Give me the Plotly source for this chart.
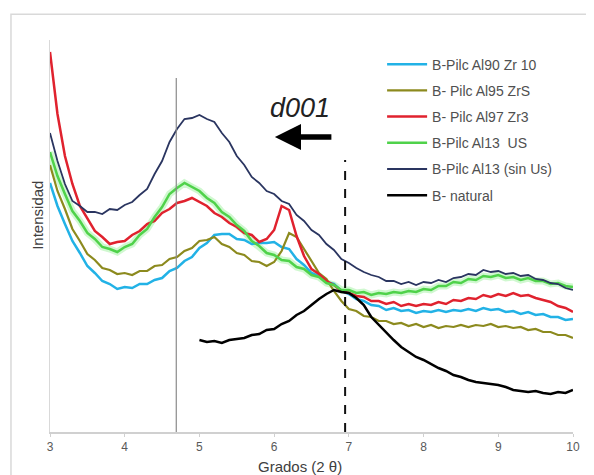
import plotly.graph_objects as go

x_deg = [3.0, 3.1, 3.2, 3.3, 3.4, 3.5, 3.6, 3.7, 3.8, 3.9,
         4.0, 4.1, 4.2, 4.3, 4.4, 4.5, 4.6, 4.7, 4.8, 4.9,
         5.0, 5.1, 5.2, 5.3, 5.4, 5.5, 5.6, 5.7, 5.8, 5.9,
         6.0, 6.1, 6.2, 6.3, 6.4, 6.5, 6.6, 6.7, 6.8, 6.9,
         7.0, 7.1, 7.2, 7.3, 7.4, 7.5, 7.6, 7.7, 7.8, 7.9,
         8.0, 8.1, 8.2, 8.3, 8.4, 8.5, 8.6, 8.7, 8.8, 8.9,
         9.0, 9.1, 9.2, 9.3, 9.4, 9.5, 9.6, 9.7, 9.8, 9.9, 10.0]

al90_zr10 = [249, 226, 208, 191, 179, 166, 159, 151, 148, 143,
             145, 144, 148, 148, 152, 154, 161, 164, 171, 175,
             184, 189, 197, 198, 198, 193, 192, 188, 189, 189,
             190, 185, 183, 173, 167, 159, 156, 150, 148, 141,
             138, 133, 131, 127, 126, 122, 124, 121, 122, 119,
             121, 120, 122, 120, 122, 121, 123, 121, 124, 122,
             123, 120, 121, 118, 120, 117, 118, 115, 115, 112, 113]

al95_zr5 = [267, 241, 223, 203, 191, 178, 172, 164, 162, 158,
            159, 157, 161, 161, 166, 167, 173, 175, 181, 184,
            191, 192, 195, 188, 185, 179, 177, 171, 170, 166,
            170, 181, 199, 195, 183, 171, 159, 153, 141, 131,
            123, 121, 116, 115, 111, 111, 108, 109, 106, 108,
            105, 107, 104, 106, 105, 107, 105, 107, 106, 108,
            105, 106, 104, 105, 102, 103, 100, 100, 97, 97, 94]

al97_zr3 = [380, 318, 276, 248, 226, 213, 201, 195, 188, 190,
            191, 197, 201, 208, 211, 219, 223, 229, 231, 234,
            230, 226, 219, 215, 209, 205, 199, 197, 190, 193,
            202, 226, 222, 196, 176, 163, 158, 151, 147, 141,
            139, 136, 135, 131, 131, 128, 130, 126, 128, 126,
            128, 127, 130, 128, 132, 131, 134, 133, 137, 135,
            138, 136, 139, 136, 137, 134, 132, 130, 126, 124, 120]

al13_us = [280, 256, 238, 221, 211, 199, 193, 185, 183, 180,
           185, 188, 197, 203, 215, 225, 238, 244, 249, 245,
           241, 234, 229, 220, 215, 207, 201, 191, 186, 179,
           177, 172, 171, 165, 163, 157, 155, 149, 147, 142,
           142, 139, 140, 137, 139, 138, 140, 139, 141, 140,
           143, 142, 146, 146, 150, 149, 153, 152, 156, 155,
           157, 154, 155, 152, 154, 151, 151, 148, 149, 146, 145]

al13_sin_us = [299, 271, 248, 231, 226, 220, 220, 218, 223, 222,
               227, 230, 237, 243, 258, 271, 290, 303, 313, 314,
               317, 313, 310, 299, 290, 276, 267, 255, 249, 241,
               238, 231, 228, 217, 211, 202, 197, 188, 182, 173,
               169, 164, 160, 157, 155, 151, 151, 148, 150, 147,
               150, 149, 152, 150, 154, 155, 158, 157, 162, 160,
               161, 158, 159, 156, 157, 153, 152, 149, 148, 144, 142]

x_natural = [5.0, 5.1, 5.2, 5.3, 5.4, 5.5, 5.6, 5.7, 5.8, 5.9,
             6.0, 6.1, 6.2, 6.3, 6.4, 6.5, 6.6, 6.7, 6.8, 6.9,
             7.0, 7.1, 7.2, 7.3, 7.4, 7.5, 7.6, 7.7, 7.8, 7.9,
             8.0, 8.1, 8.2, 8.3, 8.4, 8.5, 8.6, 8.7, 8.8, 8.9,
             9.0, 9.1, 9.2, 9.3, 9.4, 9.5, 9.6, 9.7, 9.8, 9.9, 10.0]
natural = [92, 90, 91, 89, 92, 93, 94, 97, 98, 102,
           103, 108, 111, 117, 121, 127, 133, 138, 142, 140,
           139, 134, 127, 115, 107, 99, 92, 85, 80, 75,
           72, 68, 64, 61, 57, 55, 52, 50, 49, 48,
           47, 45, 42, 41, 40, 41, 39, 38, 40, 39, 42]

series_names = ["B-Pilc Al90 Zr 10", "B- Pilc Al95 ZrS", "B- Pilc Al97 Zr3",
                "B-Pilc Al13  US", "B-Pilc Al13 (sin Us)", "B- natural"]
x_ticks = [3, 4, 5, 6, 7, 8, 9, 10]
ref_solid_x = 4.69
ref_solid_top = 354
ref_dash_x = 6.95
ref_dash_top = 272

fig = go.Figure()

# green glow underlay
fig.add_trace(go.Scatter(x=x_deg, y=al13_us, mode="lines", showlegend=False,
                         hoverinfo="skip",
                         line=dict(color="rgba(150,240,150,0.45)", width=7)))

traces = [
    (series_names[0], x_deg, al90_zr10, "#22b2e6", 2.5),
    (series_names[1], x_deg, al95_zr5, "#8c8a1e", 2.2),
    (series_names[2], x_deg, al97_zr3, "#e0222e", 2.5),
    (series_names[3], x_deg, al13_us, "#4fd24a", 2.5),
    (series_names[4], x_deg, al13_sin_us, "#2a3560", 1.8),
    (series_names[5], x_natural, natural, "#000000", 2.5),
]
for i, (nm, xs, ys, col, w) in enumerate(traces):
    fig.add_trace(go.Scatter(x=xs, y=ys, mode="lines", name=nm,
                             legendgroup="g%d" % i,
                             line=dict(color=col, width=w)))

fig.add_shape(type="line", xref="x", yref="y", x0=ref_solid_x, x1=ref_solid_x,
              y0=0, y1=ref_solid_top, line=dict(color="#8a8a8a", width=1.2))
fig.add_shape(type="line", xref="x", yref="y", x0=ref_dash_x, x1=ref_dash_x,
              y0=0, y1=ref_dash_top, line=dict(color="#111111", width=2, dash="dash"))

# outer chart border
fig.add_shape(type="rect", xref="paper", yref="paper", x0=-0.0746, x1=1.2,
              y0=-0.3, y1=1.066, line=dict(color="#d9d9d9", width=1.5),
              layer="below")

fig.add_annotation(x=6.35, y=324, xref="x", yref="y", text="<i>d001</i>",
                   showarrow=False, font=dict(size=27, color="#222222",
                                              family="Liberation Sans"))
fig.add_annotation(x=6.01, y=295, xref="x", yref="y", text="",
                   showarrow=True, ax=58, ay=0, arrowhead=2, arrowsize=0.95,
                   arrowwidth=5.5, arrowcolor="#000000")

fig.add_annotation(x=-0.023, y=0.554, xref="paper", yref="paper",
                   xanchor="center", yanchor="middle",
                   text="Intensidad", textangle=-90, showarrow=False,
                   font=dict(size=15, color="#404040"))
fig.add_annotation(x=0.478, y=-0.089, xref="paper", yref="paper",
                   xanchor="center", yanchor="middle",
                   text="Grados (2 θ)", showarrow=False,
                   font=dict(size=15, color="#404040"))

fig.update_layout(
    width=594, height=475,
    margin=dict(l=42, r=29, t=32, b=51, autoexpand=False),
    paper_bgcolor="white", plot_bgcolor="white",
    font=dict(family="Liberation Sans", color="#595959", size=11),
    showlegend=True,
    legend=dict(x=0.635, y=0.978, xanchor="left", yanchor="top",
                bgcolor="rgba(0,0,0,0)", borderwidth=0,
                font=dict(size=14, color="#505050"),
                tracegroupgap=5, itemwidth=40),
    xaxis=dict(range=[3, 10], tickvals=x_ticks, ticktext=[str(t) for t in x_ticks],
               showgrid=False, zeroline=False, showline=True,
               linecolor="#d0d0d0", linewidth=1.5, ticks="outside",
               ticklen=3, tickcolor="#d0d0d0",
               tickfont=dict(size=12, color="#595959")),
    yaxis=dict(range=[0, 392], showgrid=False, zeroline=False, showline=True,
               linecolor="#d9d9d9", linewidth=1, showticklabels=False, ticks=""),
)

fig.write_html("out.html")
